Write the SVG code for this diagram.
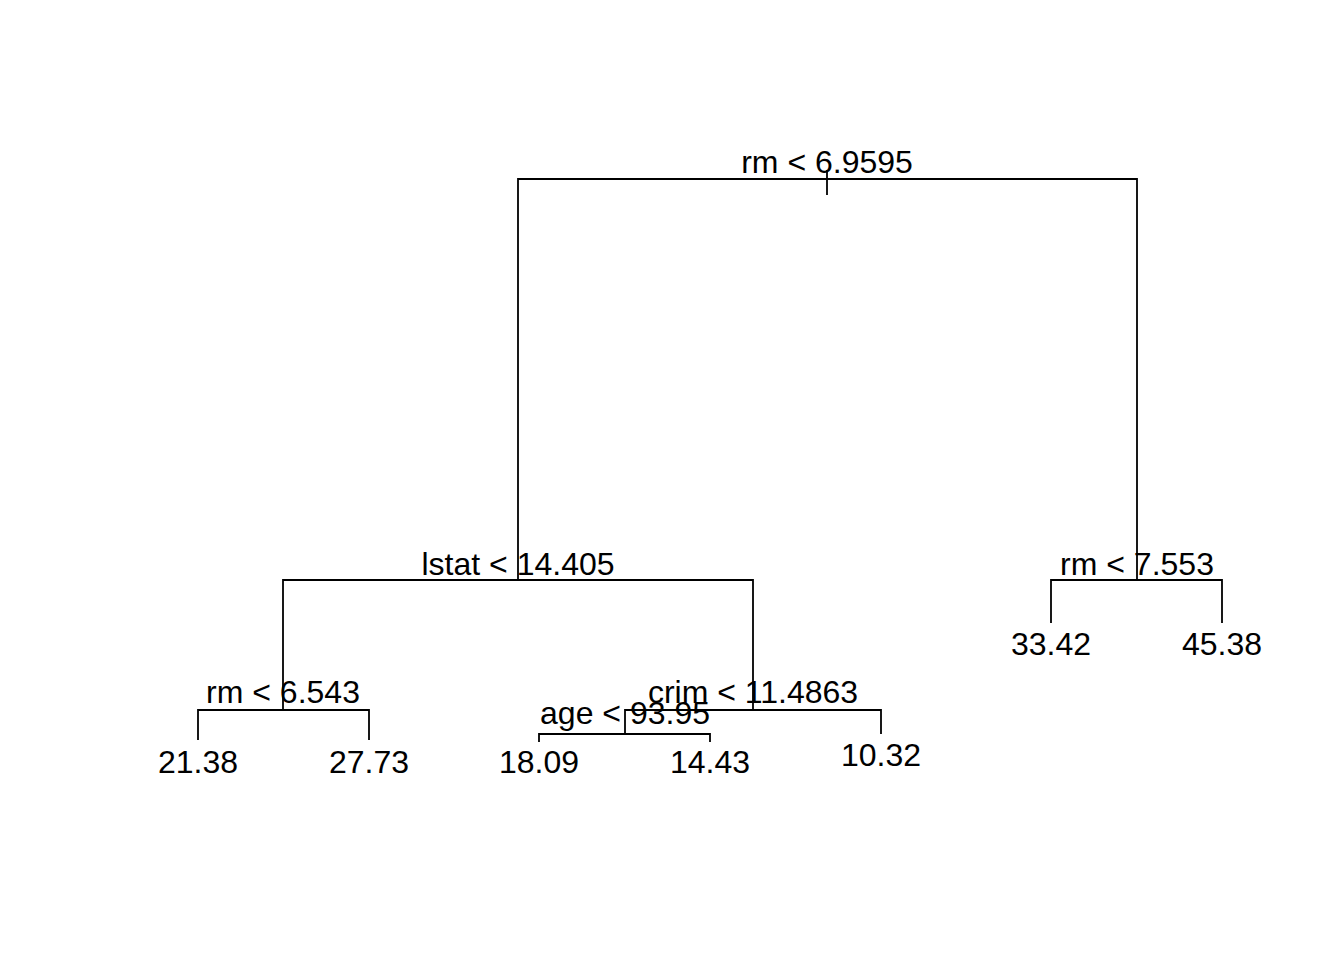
<svg xmlns="http://www.w3.org/2000/svg" width="1344" height="960" viewBox="0 0 1344 960">
<style>
.e{fill:none;stroke:#000;stroke-width:1.8;stroke-linecap:butt}
text{font-family:"Liberation Sans",Arial,sans-serif;font-size:32px;fill:#000;text-anchor:middle}
</style>
<rect width="1344" height="960" fill="#fff"/>
<g id="connectors">
<path class="e" d="M827,170 V195"/>
<path class="e" d="M518,580 V179 H1137 V580"/>
<path class="e" d="M283,710 V580 H753 V710"/>
<path class="e" d="M1051,623 V580 H1222 V623"/>
<path class="e" d="M198,740 V710 H369 V740"/>
<path class="e" d="M625,734 V710 H881 V734"/>
<path class="e" d="M539,742 V734 H710 V742"/>
</g>
<g id="n-root"><text x="827" y="173">rm &lt; 6.9595</text></g>
<g id="n-lstat"><text x="518" y="575">lstat &lt; 14.405</text></g>
<g id="n-rm7553"><text x="1137" y="575">rm &lt; 7.553</text></g>
<g id="n-rm6543"><text x="283" y="703">rm &lt; 6.543</text></g>
<g id="n-crim"><text x="753" y="703">crim &lt; 11.4863</text></g>
<g id="n-age"><text x="625" y="724">age &lt; 93.95</text></g>
<g id="l-2138"><text x="198" y="773">21.38</text></g>
<g id="l-2773"><text x="369" y="773">27.73</text></g>
<g id="l-1809"><text x="539" y="773">18.09</text></g>
<g id="l-1443"><text x="710" y="773">14.43</text></g>
<g id="l-1032"><text x="881" y="766">10.32</text></g>
<g id="l-3342"><text x="1051" y="655">33.42</text></g>
<g id="l-4538"><text x="1222" y="655">45.38</text></g>
</svg>
